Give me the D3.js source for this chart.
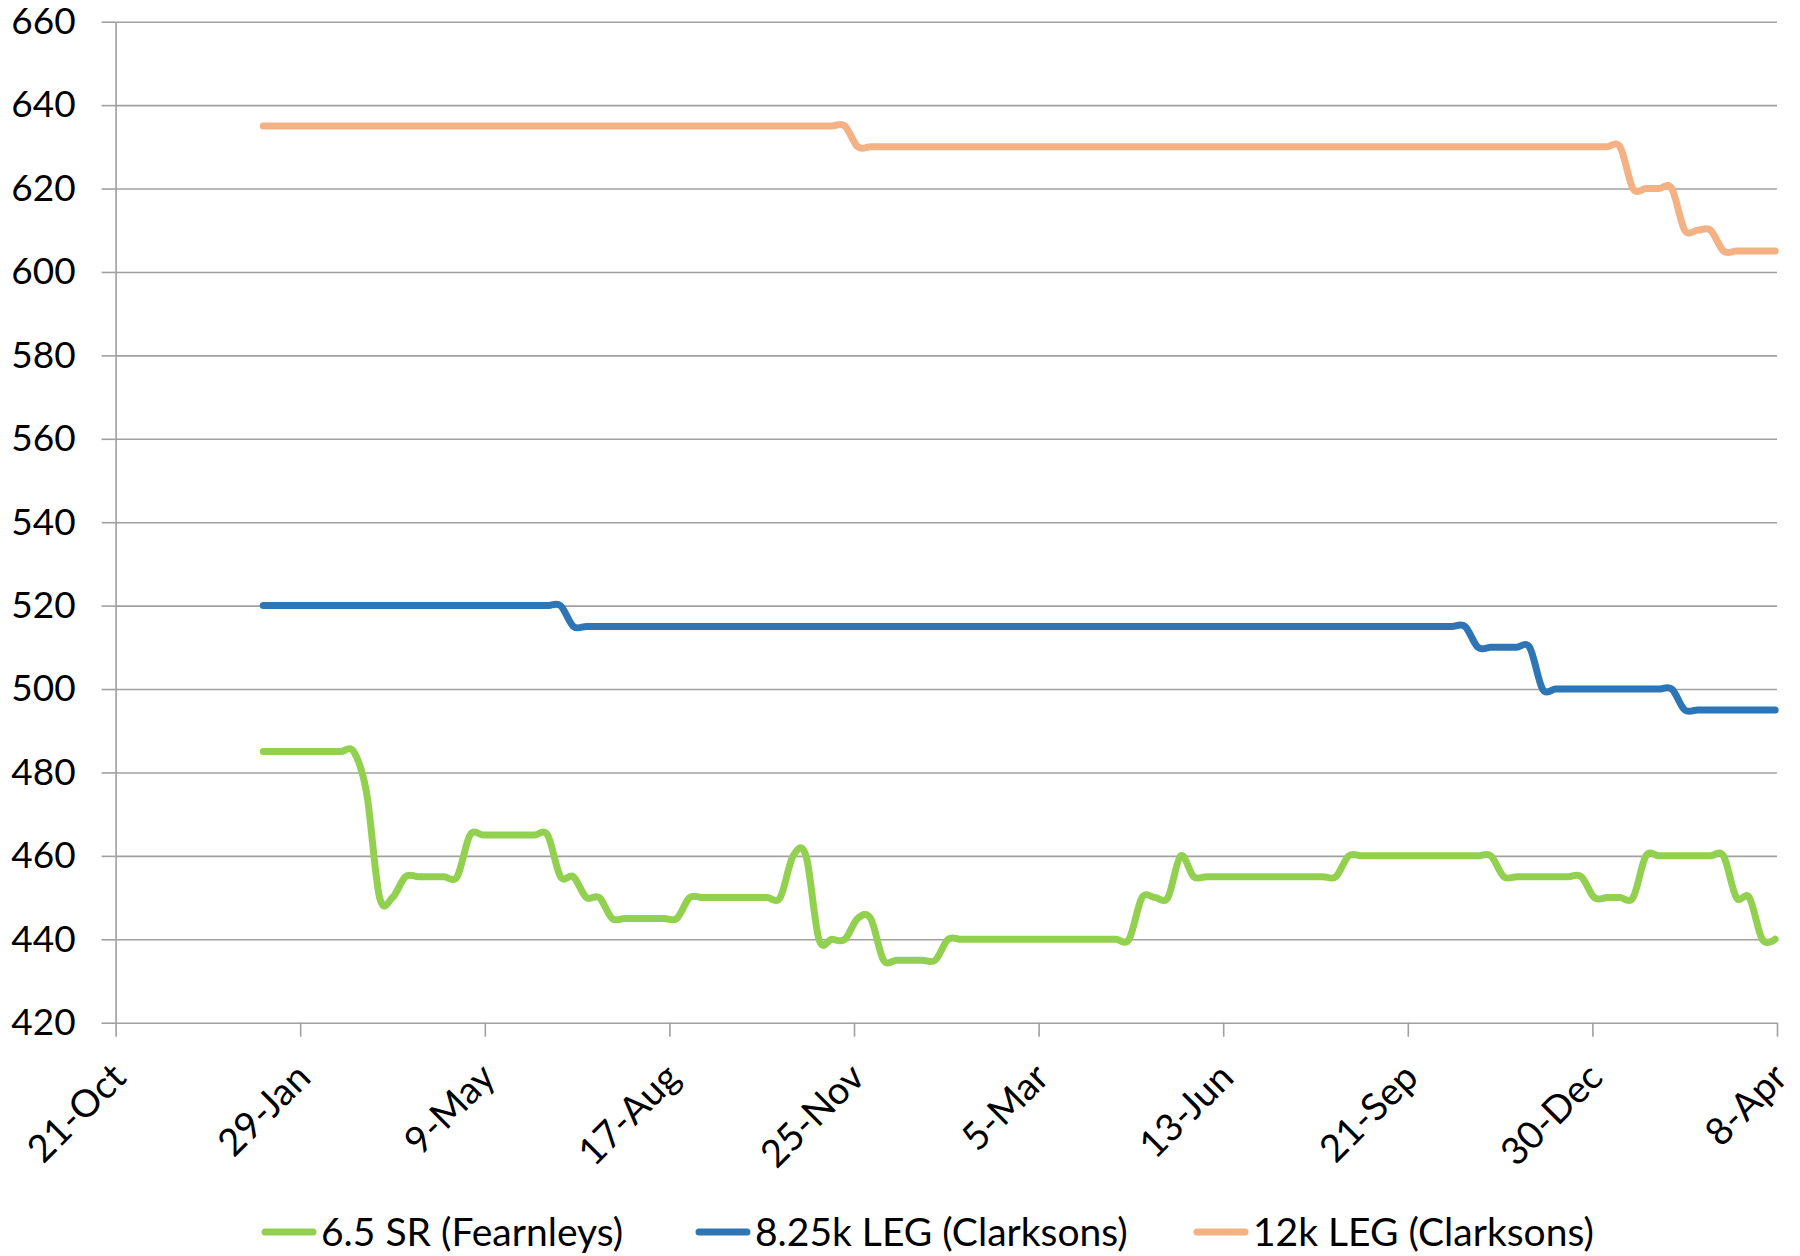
<!DOCTYPE html>
<html><head><meta charset="utf-8">
<script src="https://cdn.jsdelivr.net/npm/d3@7/dist/d3.min.js"></script>
<style>
body{margin:0;background:#fff}
text{font-family:Lato,"Noto Sans",sans-serif;fill:#000}
</style>
</head><body>
<svg id="chart" width="1800" height="1256"></svg>
<script>
// ---- data ----
const seriesNames = ["6.5 SR (Fearnleys)", "8.25k LEG (Clarksons)", "12k LEG (Clarksons)"];
const seriesColors = ["#92D050", "#2E75B6", "#F4B183"];
const firstWeek = "2010-01-09";
const lastWeek = "2012-04-07";
const sr65 = [
 485,485,485,485,485,485,485,485,475,450,
 450,455,455,455,455,455,465,465,465,465,
 465,465,465,455,455,450,450,445,445,445,
 445,445,445,450,450,450,450,450,450,450,
 450,460,460,440,440,440,445,445,435,435,
 435,435,435,440,440,440,440,440,440,440,
 440,440,440,440,440,440,440,440,450,450,
 450,460,455,455,455,455,455,455,455,455,
 455,455,455,455,460,460,460,460,460,460,
 460,460,460,460,460,460,455,455,455,455,
 455,455,455,450,450,450,450,460,460,460,
 460,460,460,460,450,450,440,440
];
const leg825 = [
 520,520,520,520,520,520,520,520,520,520,
 520,520,520,520,520,520,520,520,520,520,
 520,520,520,520,515,515,515,515,515,515,
 515,515,515,515,515,515,515,515,515,515,
 515,515,515,515,515,515,515,515,515,515,
 515,515,515,515,515,515,515,515,515,515,
 515,515,515,515,515,515,515,515,515,515,
 515,515,515,515,515,515,515,515,515,515,
 515,515,515,515,515,515,515,515,515,515,
 515,515,515,515,510,510,510,510,510,500,
 500,500,500,500,500,500,500,500,500,500,
 495,495,495,495,495,495,495,495
];
const leg12k = [
 635,635,635,635,635,635,635,635,635,635,
 635,635,635,635,635,635,635,635,635,635,
 635,635,635,635,635,635,635,635,635,635,
 635,635,635,635,635,635,635,635,635,635,
 635,635,635,635,635,635,630,630,630,630,
 630,630,630,630,630,630,630,630,630,630,
 630,630,630,630,630,630,630,630,630,630,
 630,630,630,630,630,630,630,630,630,630,
 630,630,630,630,630,630,630,630,630,630,
 630,630,630,630,630,630,630,630,630,630,
 630,630,630,630,630,630,620,620,620,620,
 610,610,610,605,605,605,605,605
];
const xTickDates = ["2009-10-21","2010-01-29","2010-05-09","2010-08-17","2010-11-25",
                    "2011-03-05","2011-06-13","2011-09-21","2011-12-30","2012-04-08"];
const yTicks = [420,440,460,480,500,520,540,560,580,600,620,640,660];

// ---- setup ----
const parse = d3.utcParse("%Y-%m-%d");
const fmt = d3.utcFormat("%-d-%b");
const weeks = d3.utcSaturday.range(parse(firstWeek), d3.utcDay.offset(parse(lastWeek), 1));
const allSeries = [sr65, leg825, leg12k];

const svg = d3.select("#chart");
svg.append("rect").attr("width",1800).attr("height",1256).attr("fill","#fff");

const L = 115.6, R = 1777, T = 21.7, B = 1022.7;
const x = d3.scaleUtc().domain([parse(xTickDates[0]), parse(xTickDates[xTickDates.length-1])]).range([L, R]);
const y = d3.scaleLinear().domain([420, 660]).range([B, T]);
const gridColor = "#A0A0A0";

// gridlines
const grid = svg.append("g").attr("transform", `translate(${L},0)`)
  .call(d3.axisLeft(y).tickValues(yTicks.slice(1)).tickSize(-(R - L)).tickFormat(""));
grid.select(".domain").remove();
grid.selectAll("line").attr("stroke", gridColor).attr("stroke-width", 1.6);

// y axis
const yAxis = svg.append("g").attr("transform", `translate(${L},0)`)
  .call(d3.axisLeft(y).tickValues(yTicks).tickSize(14).tickSizeOuter(0).tickPadding(26).tickFormat(d3.format("d")));
yAxis.select(".domain").attr("stroke", gridColor).attr("stroke-width", 1.6);
yAxis.selectAll(".tick line").attr("stroke", gridColor).attr("stroke-width", 1.6);
yAxis.selectAll("text").attr("font-size", 37).attr("font-family", "Lato").attr("fill", "#000");

// x axis
const xAxis = svg.append("g").attr("transform", `translate(0,${B})`)
  .call(d3.axisBottom(x).tickValues(xTickDates.map(parse)).tickSize(14).tickSizeOuter(0).tickFormat(fmt));
xAxis.select(".domain").attr("stroke", gridColor).attr("stroke-width", 1.6);
xAxis.selectAll(".tick line").attr("stroke", gridColor).attr("stroke-width", 1.6);
xAxis.selectAll("text")
  .attr("font-size", 38).attr("font-family", "Lato").attr("fill", "#000")
  .attr("y", 0).attr("dy", 0)
  .attr("text-anchor", "end")
  .attr("transform", "translate(12,57) rotate(-45)");

// lines
const line = d3.line()
  .x((d, i) => x(weeks[i]))
  .y(d => y(d))
  .curve(d3.curveCardinal.tension(0));

allSeries.forEach((s, k) => {
  svg.append("path")
    .datum(s)
    .attr("d", line)
    .attr("fill", "none")
    .attr("stroke", seriesColors[k])
    .attr("stroke-width", 7)
    .attr("stroke-linecap", "round")
    .attr("stroke-linejoin", "round");
});

// legend
const legendX = [262, 696, 1194];
const legendY = 1232;
const lg = svg.append("g");
seriesNames.forEach((n, k) => {
  lg.append("line")
    .attr("x1", legendX[k] + 3).attr("x2", legendX[k] + 51)
    .attr("y1", legendY).attr("y2", legendY)
    .attr("stroke", seriesColors[k]).attr("stroke-width", 7).attr("stroke-linecap", "round");
  lg.append("text")
    .attr("x", legendX[k] + 59).attr("y", legendY).attr("dy", "0.35em")
    .attr("font-size", 39).text(n);
});
</script>
</body></html>
